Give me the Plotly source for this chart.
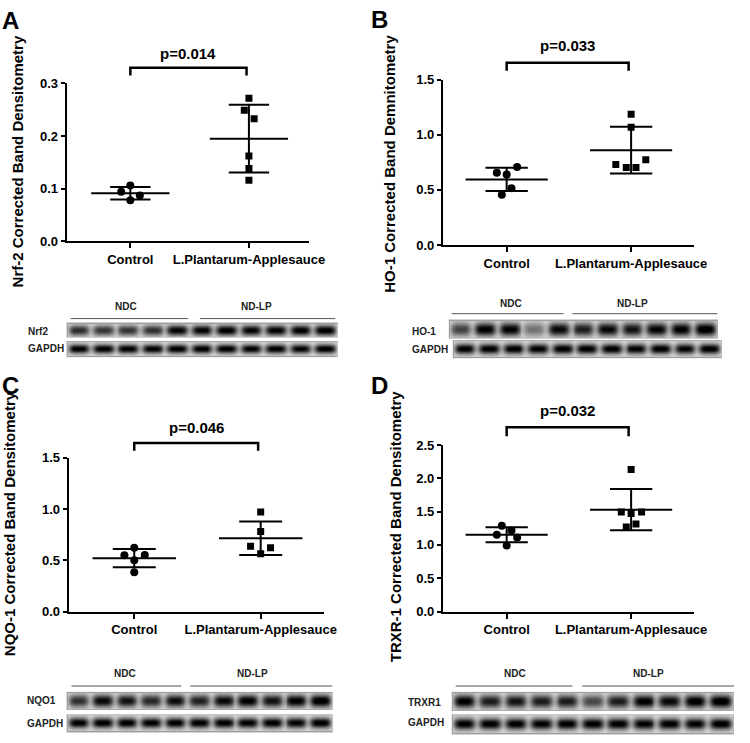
import numpy as np
import plotly.graph_objects as go

W, H = 750, 743
FONT = "Arial, Liberation Sans, sans-serif"

# ---------------- data ----------------
groups = ["Control", "L.Plantarum-Applesauce"]

nrf2_control = [0.106, 0.094, 0.087, 0.078]
nrf2_lp = [0.272, 0.249, 0.233, 0.162, 0.138, 0.116]

ho1_control = [0.655, 0.640, 0.708, 0.516, 0.457]
ho1_lp = [1.186, 1.068, 0.729, 0.702, 0.702, 0.773]

nqo1_control = [0.621, 0.548, 0.551, 0.500, 0.382]
nqo1_lp = [0.971, 0.780, 0.637, 0.621, 0.564]

trxr1_control = [1.289, 1.216, 1.152, 1.113, 0.990]
trxr1_lp = [2.132, 1.495, 1.470, 1.495, 1.270, 1.314]

p_values = ["p=0.014", "p=0.033", "p=0.046", "p=0.032"]
y_titles = ["Nrf-2 Corrected Band Densitometry",
            "HO-1 Corrected Band Demnitometry",
            "NQO-1 Corrected Band Densitometry",
            "TRXR-1 Corrected Band Densitometry"]
y_tick_max = [0.3, 1.5, 1.5, 2.5]
y_tick_step = [0.1, 0.5, 0.5, 0.5]
panel_letters = ["A", "B", "C", "D"]

blot_groups = ["NDC", "ND-LP"]
blot_targets = ["Nrf2", "HO-1", "NQO1", "TRXR1"]
nrf2_bands = [0.72, 0.68, 0.68, 0.70, 0.92, 0.92, 0.95, 0.92, 0.92, 0.95, 0.97]
ho1_bands = [0.62, 0.95, 0.93, 0.40, 0.90, 0.80, 0.90, 0.85, 0.92, 0.95, 1.00]
nqo1_bands = [0.70, 0.90, 0.85, 0.75, 0.88, 0.78, 0.90, 0.95, 0.85, 0.95, 1.00]
trxr1_bands = [0.95, 0.80, 0.85, 0.80, 0.80, 0.60, 0.80, 0.95, 0.90, 0.98, 1.00]
gapdh_bands = [0.95, 0.95, 0.95, 0.93, 0.95, 0.95, 0.95, 0.93, 0.95, 0.92, 0.97]

# ---------------- layout helpers (pixels) ----------------
def px2x(px):
    return px / W


def py2y(py):
    return 1 - py / H


# horizontal jitter of the dots (category units)
jitters = [
    ([0, -0.077, 0.08, 0], [0, -0.039, 0.044, 0, 0, 0]),
    ([-0.079, 0, 0.084, 0.039, -0.039], [0, 0, -0.123, -0.039, 0.039, 0.118]),
    ([0, -0.078, 0.083, 0, 0], [0, 0, -0.08, 0.078, 0]),
    ([-0.039, 0.039, -0.079, 0.084, 0], [0, -0.079, 0, 0.084, -0.039, 0.039]),
]

geoms = [
    dict(left=68, right=315, ctrl=133, lp=254, y0=239, ytop=78, br=62, bre=70, pt=47, tx=18, ty=158, lx=11, ly=14),
    dict(left=452, right=708, ctrl=517, lp=644, y0=243, ytop=74, br=57, bre=65, pt=39, tx=398, ty=160, lx=387, ly=13),
    dict(left=70, right=331, ctrl=137, lp=266, y0=617, ytop=460, br=445, bre=453, pt=429, tx=10, ty=527, lx=11, ly=386),
    dict(left=452, right=708, ctrl=517, lp=644, y0=617, ytop=447, br=429, bre=438, pt=412, tx=403, ty=530, lx=387, ly=386),
]

blot_geoms = [
    dict(g1=(129, 306), g2=(262, 306), l1=(72, 192), l2=(204, 342), ly=318,
         r1=(68, 322, 345, 337), r2=(68, 341, 345, 357), lab_x=27, lab1_y=331, lab2_y=349),
    dict(g1=(521, 303), g2=(645, 303), l1=(461, 575), l2=(584, 732), ly=313,
         r1=(458, 319, 732, 338), r2=(462, 340, 736, 358), lab_x=418, lab1_y=331, lab2_y=350),
    dict(g1=(128, 680), g2=(258, 680), l1=(73, 185), l2=(194, 339), ly=693,
         r1=(68, 699, 339, 717), r2=(68, 722, 339, 740), lab_x=25, lab1_y=708, lab2_y=731),
    dict(g1=(525, 680), g2=(662, 680), l1=(465, 584), l2=(594, 749), ly=693,
         r1=(461, 699, 749, 718), r2=(461, 722, 749, 742), lab_x=414, lab1_y=710, lab2_y=730),
]

panel_data = [(nrf2_control, nrf2_lp), (ho1_control, ho1_lp),
              (nqo1_control, nqo1_lp), (trxr1_control, trxr1_lp)]
target_bands = [nrf2_bands, ho1_bands, nqo1_bands, trxr1_bands]

fig = go.Figure()
annotations = []
shapes = []

for i, ((ctrl, lp), (jc, jl), g) in enumerate(zip(panel_data, jitters, geoms), start=1):
    xa, ya = f"x{i}", f"y{i}"
    unit = g["lp"] - g["ctrl"]
    xr = [(g["left"] - g["ctrl"]) / unit, (g["right"] - g["ctrl"]) / unit]

    # mean +/- SD lines
    for gi, vals in enumerate([ctrl, lp]):
        m = float(np.mean(vals))
        s = float(np.std(vals, ddof=1))
        xs = [gi - 0.33, gi + 0.33, None, gi, gi, None,
              gi - 0.17, gi + 0.17, None, gi - 0.17, gi + 0.17]
        ys = [m, m, None, m - s, m + s, None, m + s, m + s, None, m - s, m - s]
        fig.add_trace(go.Scatter(x=xs, y=ys, mode="lines", line=dict(color="black", width=2),
                                 xaxis=xa, yaxis=ya, showlegend=False, hoverinfo="skip"))

    fig.add_trace(go.Scatter(x=[0 + j for j in jc], y=ctrl, mode="markers",
                             marker=dict(symbol="circle", size=8, color="black"),
                             xaxis=xa, yaxis=ya, showlegend=False, name=groups[0]))
    fig.add_trace(go.Scatter(x=[1 + j for j in jl], y=lp, mode="markers",
                             marker=dict(symbol="square", size=7, color="black"),
                             xaxis=xa, yaxis=ya, showlegend=False, name=groups[1]))

    ymax = y_tick_max[i - 1]
    step = y_tick_step[i - 1]
    tv = list(np.round(np.arange(0, ymax + step / 2, step), 3))

    fig.layout[f"xaxis{i}"] = dict(
        domain=[px2x(g["left"]), px2x(g["right"])], range=xr, anchor=ya,
        tickmode="array", tickvals=[0, 1], ticktext=groups,
        showline=True, linewidth=2, linecolor="black", ticks="outside",
        ticklen=5, tickwidth=2, tickcolor="black", showgrid=False, zeroline=False,
        tickfont=dict(family=FONT, size=13, color="black", weight="bold"), fixedrange=True)
    fig.layout[f"yaxis{i}"] = dict(
        domain=[py2y(g["y0"]), py2y(g["ytop"])], range=[0, ymax], anchor=xa,
        tickmode="array", tickvals=tv, tickformat=".1f",
        showline=True, linewidth=2, linecolor="black", ticks="outside",
        ticklen=4, tickwidth=2, tickcolor="black", showgrid=False, zeroline=False,
        tickfont=dict(family=FONT, size=13, color="black", weight="bold"), fixedrange=True)

    # significance bracket
    yb, ybe = py2y(g["br"]), py2y(g["bre"])
    shapes.append(dict(type="path", xref=xa, yref="paper",
                       path=f"M 0,{ybe} L 0,{yb} L 0.98,{yb} L 0.98,{ybe}",
                       line=dict(color="black", width=2.5)))
    annotations.append(dict(xref=xa, yref="paper", x=0.49, y=py2y(g["pt"]),
                            text=p_values[i - 1], showarrow=False, xanchor="center", yanchor="middle",
                            font=dict(family=FONT, size=15, color="black", weight="bold")))
    # y title
    annotations.append(dict(xref="paper", yref="paper", x=px2x(g["tx"]), y=py2y(g["ty"]),
                            text=y_titles[i - 1], textangle=-90, showarrow=False,
                            xanchor="center", yanchor="middle",
                            font=dict(family=FONT, size=15, color="black", weight="bold")))
    # panel letter
    annotations.append(dict(xref="paper", yref="paper", x=px2x(g["lx"]), y=py2y(g["ly"]),
                            text=panel_letters[i - 1], showarrow=False,
                            xanchor="center", yanchor="middle",
                            font=dict(family=FONT, size=24, color="black", weight="bold")))


# ---------------- western blot strips ----------------
def blot_row(box, bands, thick):
    left, top, right, bottom = box
    w = int(round(right - left))
    h = int(round(bottom - top))
    xs = np.arange(w) + 0.5
    ys = np.arange(h) + 0.5
    lane_w = w / len(bands)
    z = np.full((h, w), 0.12)
    for k, b in enumerate(bands):
        cx = (k + 0.5) * lane_w
        halo = np.exp(-(np.abs(xs - cx) / (0.47 * lane_w)) ** 6)
        z += 0.09 * np.outer(np.ones(h), halo)
        hx = np.exp(-(np.abs(xs - cx) / (0.43 * lane_w)) ** 4)
        vy = np.exp(-(np.abs(ys - h * 0.5) / (thick * h)) ** 2.2)
        z += 0.86 * b * np.outer(vy, hx)
    z[0, :] = 0.38
    z[-1, :] = 0.38
    z[:, 0] = 0.38
    z[:, -1] = 0.38
    z = np.clip(z, 0, 1)
    return go.Heatmap(z=z, x0=left + 0.5, dx=1, y0=top + 0.5, dy=1,
                      colorscale=[[0, "#ffffff"], [1, "#000000"]], zmin=0, zmax=1,
                      showscale=False, hoverinfo="skip", xaxis="x5", yaxis="y5")


for bg, bands, target in zip(blot_geoms, target_bands, blot_targets):
    fig.add_trace(blot_row(bg["r1"], bands, 0.33))
    fig.add_trace(blot_row(bg["r2"], gapdh_bands, 0.27))
    for (cx, cy), name in zip([bg["g1"], bg["g2"]], blot_groups):
        annotations.append(dict(xref="paper", yref="paper", x=px2x(cx), y=py2y(cy),
                                text=name, showarrow=False, xanchor="center", yanchor="middle",
                                font=dict(family=FONT, size=10, color="#222", weight="bold")))
    for (x0, x1) in [bg["l1"], bg["l2"]]:
        shapes.append(dict(type="line", xref="paper", yref="paper",
                           x0=px2x(x0), x1=px2x(x1), y0=py2y(bg["ly"]), y1=py2y(bg["ly"]),
                           line=dict(color="#555555", width=1)))
    annotations.append(dict(xref="paper", yref="paper", x=px2x(bg["lab_x"]), y=py2y(bg["lab1_y"]),
                            text=target, showarrow=False, xanchor="left", yanchor="middle",
                            font=dict(family=FONT, size=10, color="#222", weight="bold")))
    annotations.append(dict(xref="paper", yref="paper", x=px2x(bg["lab_x"]), y=py2y(bg["lab2_y"]),
                            text="GAPDH", showarrow=False, xanchor="left", yanchor="middle",
                            font=dict(family=FONT, size=10, color="#222", weight="bold")))

fig.layout["xaxis5"] = dict(domain=[0, 1], range=[0, W], anchor="y5", visible=False, fixedrange=True)
fig.layout["yaxis5"] = dict(domain=[0, 1], range=[H, 0], anchor="x5", visible=False, fixedrange=True)

fig.update_layout(
    width=W, height=H, margin=dict(l=0, r=0, t=0, b=0),
    paper_bgcolor="white", plot_bgcolor="rgba(0,0,0,0)",
    showlegend=False, annotations=annotations, shapes=shapes,
    font=dict(family=FONT, color="black"),
)

fig.write_html("out.html", config={"displayModeBar": False},
               post_script="document.body.style.margin='0';")
